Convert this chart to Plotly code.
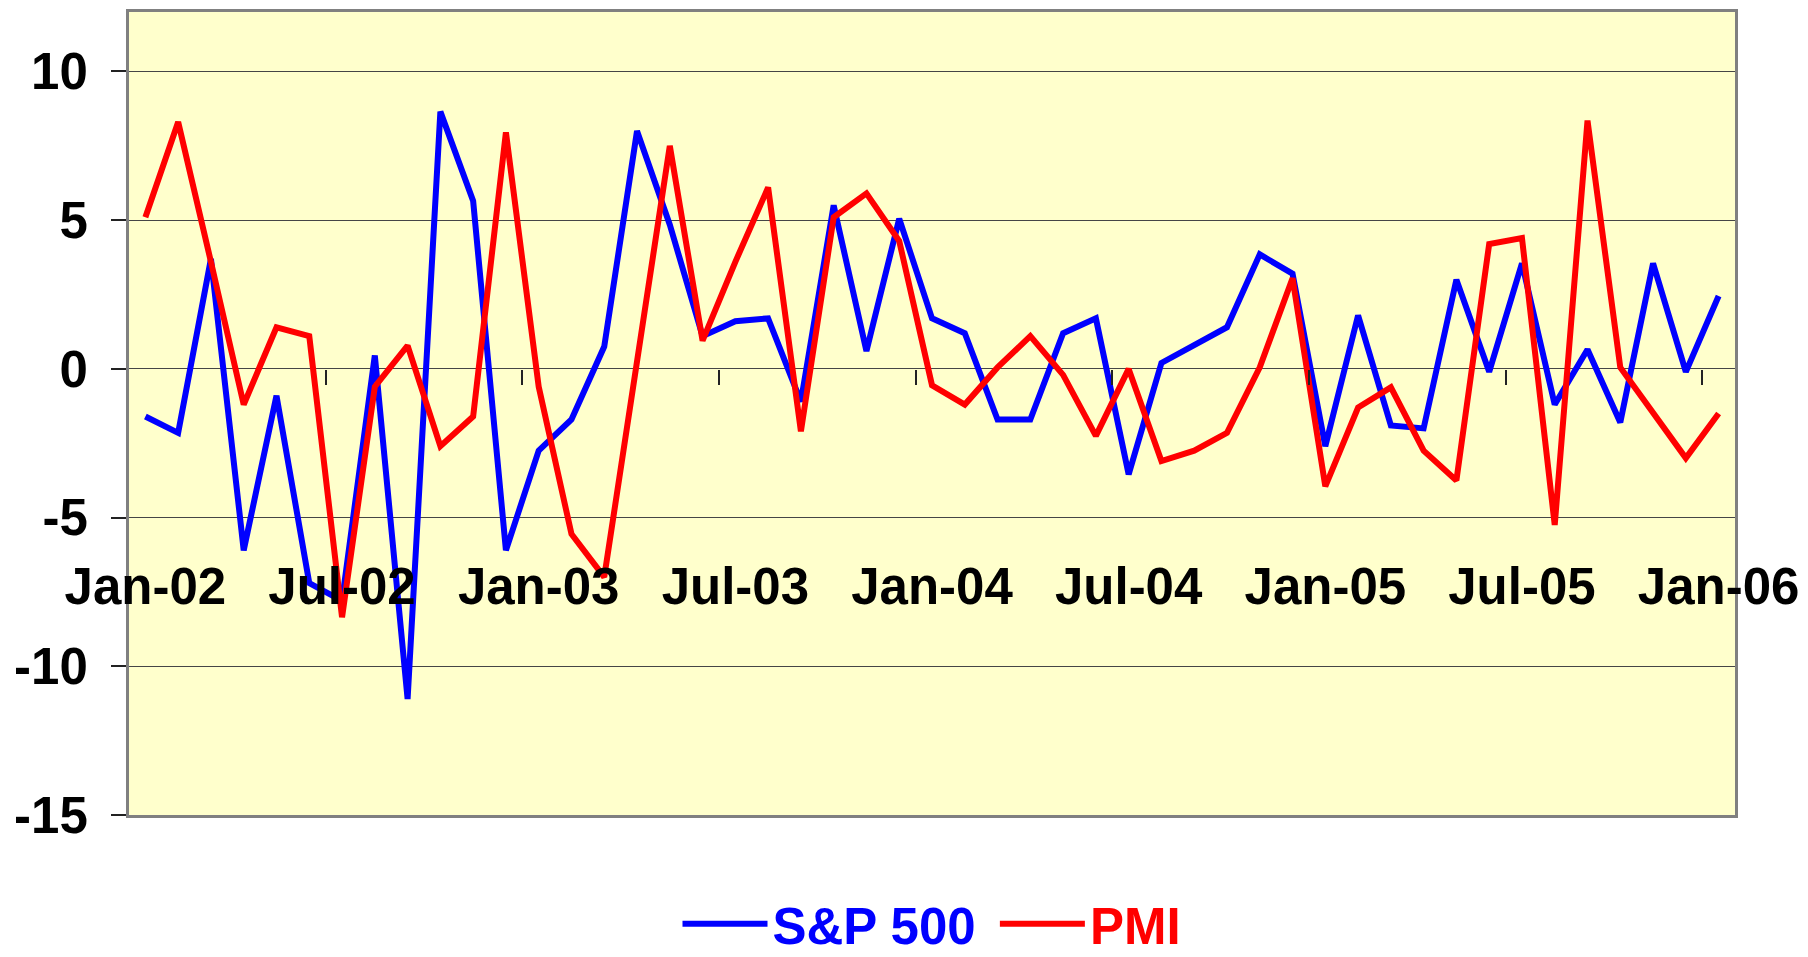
import pandas as pd
import plotly.graph_objects as go

# ---- data ----
months = list(pd.date_range("2002-01-01", "2006-01-01", freq="MS").strftime("%b-%y"))

sp500 = [-1.6, -2.15, 3.7, -6.1, -0.9, -7.2, -7.8, 0.45, -11.1, 8.65,
         5.65, -6.1, -2.75, -1.7, 0.75, 8.0, 4.85, 1.1, 1.6, 1.7,
         -1.1, 5.5, 0.6, 5.05, 1.7, 1.2, -1.7, -1.7, 1.2, 1.7,
         -3.55, 0.2, 0.8, 1.4, 3.85, 3.2, -2.6, 1.8, -1.9, -2.0,
         3.0, -0.1, 3.55, -1.2, 0.65, -1.8, 3.55, -0.1, 2.45]

pmi = [5.1, 8.3, 3.6, -1.2, 1.4, 1.1, -8.35, -0.6, 0.78, -2.6,
       -1.6, 7.95, -0.6, -5.55, -7.0, 0.1, 7.5, 0.95, 3.6, 6.1,
       -2.1, 5.1, 5.9, 4.3, -0.55, -1.2, 0.05, 1.1, -0.2, -2.25,
       0.0, -3.1, -2.75, -2.15, 0.05, 3.05, -3.95, -1.3, -0.62, -2.75,
       -3.75, 4.2, 4.4, -5.25, 8.35, 0.05, -1.45, -3.0, -1.5]

y_ticks = [-15, -10, -5, 0, 5, 10]
y_tick_text = ["-15", "-10", "-5", "0", "5", "10"]
y_range = [-15, 12]
label_step = 6

# ---- styling ----
FONT = "Liberation Sans, Arial, sans-serif"
BIG = 51
GRID = "#454545"
BORDER = "#808080"
TICKC = "#222222"

n = len(months)
x_range = [-0.5, n - 0.5]
label_pos = list(range(0, n, label_step))
label_text = [months[i] for i in label_pos]
tick_pos = [i - 0.5 for i in range(label_step, n, label_step)]

W, H = 1808, 957
ml, mr, mt, mb = 129, 73, 12, 142
plot_h = H - mt - mb
zero_frac = (0 - y_range[0]) / (y_range[1] - y_range[0])
label_axis_y = 552  # pixel row for the label axis line
label_frac = (H - mb - label_axis_y) / plot_h
legend_y = 924

fig = go.Figure()
fig.add_trace(go.Scatter(
    x=months, y=sp500, mode="lines",
    name="<span style='color:#0000FF'>S&P 500\u00a0</span>",
    line=dict(color="#0000FF", width=6)))
fig.add_trace(go.Scatter(
    x=months, y=pmi, mode="lines",
    name="<span style='color:#FF0000'>PMI</span>",
    line=dict(color="#FF0000", width=6)))
# empty helper traces to register the overlay axes
fig.add_trace(go.Scatter(x=[], y=[], xaxis="x2", showlegend=False, hoverinfo="skip"))
fig.add_trace(go.Scatter(x=[], y=[], xaxis="x3", showlegend=False, hoverinfo="skip"))

fig.update_layout(
    width=W, height=H,
    margin=dict(l=ml, r=mr, t=mt, b=mb, autoexpand=False),
    paper_bgcolor="white",
    plot_bgcolor="#FFFFCC",
    font=dict(family=FONT, size=BIG, color="black", weight="bold"),
    xaxis=dict(type="category", range=x_range, showticklabels=False,
               ticks="", showgrid=False, zeroline=False, automargin=False,
               showline=True, mirror=True, linecolor=BORDER, linewidth=3),
    xaxis2=dict(overlaying="x", anchor="free", position=zero_frac,
                type="linear", range=x_range, tickmode="array", tickvals=tick_pos,
                ticks="outside", ticklen=15, tickwidth=1.5, tickcolor=TICKC,
                showticklabels=False, showgrid=False, zeroline=False,
                showline=False, automargin=False),
    xaxis3=dict(overlaying="x", anchor="free", position=label_frac,
                type="linear", range=x_range, tickmode="array",
                tickvals=label_pos, ticktext=label_text, ticks="",
                showticklabels=True, automargin=False,
                tickfont=dict(family=FONT, size=BIG, color="black", weight="bold"),
                showgrid=False, zeroline=False, showline=False),
    yaxis=dict(range=y_range, tickmode="array", tickvals=y_ticks,
               ticktext=y_tick_text, automargin=False,
               showgrid=True, gridcolor=GRID, gridwidth=1,
               ticks="outside", ticklen=15, tickwidth=1.5, tickcolor=TICKC,
               ticklabelstandoff=13,
               tickfont=dict(family=FONT, size=BIG, color="black", weight="bold"),
               zeroline=False, showline=True, mirror=True,
               linecolor=BORDER, linewidth=3),
    legend=dict(orientation="h", x=0.5, xanchor="center",
                y=(H - mb - legend_y) / plot_h, yanchor="middle",
                font=dict(family=FONT, size=BIG, weight="bold"),
                bgcolor="rgba(0,0,0,0)", itemwidth=85),
    showlegend=True,
)

fig.write_html("out.html",
               config={"displayModeBar": False},
               post_script="document.body.style.margin='0px';document.body.style.overflow='hidden';")
